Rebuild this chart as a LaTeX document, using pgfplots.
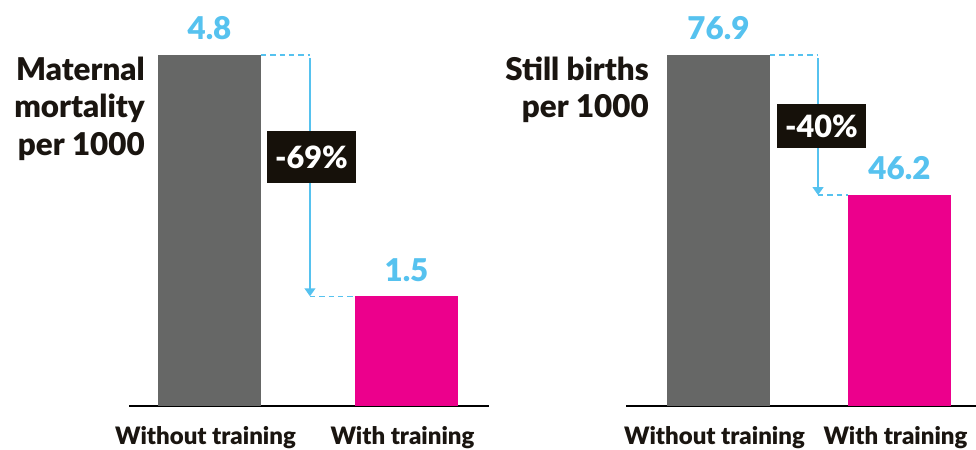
\documentclass[border=0pt]{standalone}
\usepackage{pgfplots}
\pgfplotsset{compat=1.18}
\usetikzlibrary{arrows.meta}
\usepackage{fontspec}
\setmainfont{Lato}[BoldFont={Lato Black}]

\definecolor{bargray}{HTML}{666766}
\definecolor{barpink}{HTML}{EC008C}
\definecolor{callout}{HTML}{56C2EF}
\definecolor{boxdark}{HTML}{16110A}
\definecolor{ink}{HTML}{1A1510}

% 1 px of the reference = 0.75pt
\pgfplotsset{
  panel/.style={
    scale only axis,
    height=304.5pt,
    ymin=0,
    axis y line=none,
    axis x line=bottom,
    x axis line style={-, line width=1.5pt, black},
    xtick={0,1},
    xticklabels={Without training, With training},
    major tick length=0pt,
    xticklabel style={font=\bfseries\fontsize{18}{20}\selectfont, text=ink, inner sep=0pt, anchor=north, yshift=-15.5pt, xshift=-3pt},
    clip=false,
    bar width=77.25pt,
    /pgf/number format/assume math mode=true,
    nodes near coords={\pgfmathprintnumber[fixed,precision=1,fixed zerofill]{\pgfplotspointmeta}},
    every node near coord/.append style={font=\bfseries\fontsize{23.5}{26}\selectfont, text=callout, inner sep=0pt, anchor=south, yshift=11pt},
  },
}
\tikzset{
  arrowline/.style={callout, line width=1.5pt},
  dashline/.style={callout, line width=1pt, dash pattern=on 4pt off 3pt},
  changebox/.style={fill=boxdark, text=white, font=\bfseries\fontsize{23}{24}\selectfont, inner sep=0pt, minimum width=66.75pt},
}

\begin{document}
\begin{tikzpicture}
\path[use as bounding box] (0,0) rectangle (732pt,337.5pt);

% left panel: maternal mortality
\begin{axis}[panel, at={(96.75pt,33pt)}, anchor=south west,
  width=270pt, xmin=-0.4086, xmax=1.4188, ymax=5.552]
  \addplot[ybar, bar shift=0pt, fill=bargray, draw=none] coordinates {(0,4.8)};
  \addplot[ybar, bar shift=0pt, fill=barpink, draw=none] coordinates {(1,1.5)};
  \draw[dashline] (axis cs:0.2614,4.8) -- (axis cs:0.51,4.8);
  \draw[dashline] (axis cs:0.51,1.5) -- (axis cs:0.7386,1.5);
  \draw[arrowline, -{Triangle[width=8pt,length=6pt]}] (axis cs:0.51,4.76) -- (axis cs:0.51,1.5);
  \node[changebox, minimum height=39pt] at (axis cs:0.518,3.405) {-69\%};
\end{axis}

% right panel: still births
\begin{axis}[panel, at={(469.5pt,33pt)}, anchor=south west,
  width=262.5pt, xmin=-0.511, xmax=1.4227, ymax=88.95]
  \addplot[ybar, bar shift=0pt, fill=bargray, draw=none] coordinates {(0,76.9)};
  \addplot[ybar, bar shift=0pt, fill=barpink, draw=none] coordinates {(1,46.2)};
  \draw[dashline] (axis cs:0.2845,76.9) -- (axis cs:0.55,76.9);
  \draw[dashline] (axis cs:0.55,46.2) -- (axis cs:0.7155,46.2);
  \draw[arrowline, -{Triangle[width=8pt,length=6pt]}] (axis cs:0.55,76.2) -- (axis cs:0.55,46.2);
  \node[changebox, minimum height=33pt] at (axis cs:0.569,61.35) {-40\%};
\end{axis}

% panel titles
\node[anchor=north east, align=right, inner sep=0pt, text=ink,
  font=\bfseries\fontsize{23.5}{28}\selectfont] at (108.75pt,295pt)
  {Maternal\\mortality\\per 1000};
\node[anchor=north east, align=right, inner sep=0pt, text=ink,
  font=\bfseries\fontsize{23.5}{28}\selectfont] at (486.75pt,295pt)
  {Still births\\per 1000};
\end{tikzpicture}
\end{document}
